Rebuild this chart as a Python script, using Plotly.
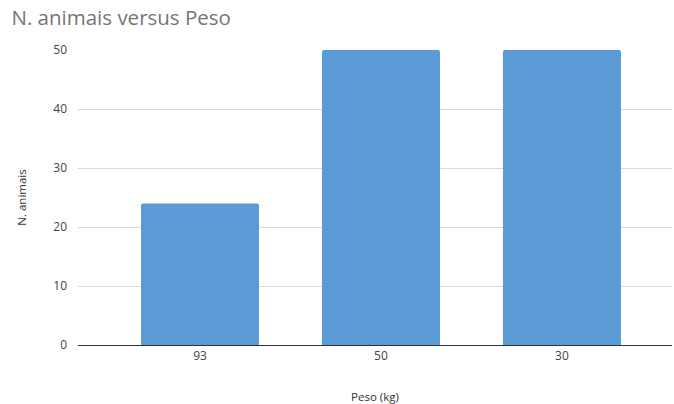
import plotly.graph_objects as go

# Data
peso_labels = ["93", "50", "30"]
n_animais = [24, 50, 50]
y_ticks = [0, 10, 20, 30, 40, 50]

fig = go.Figure(
    go.Bar(
        x=peso_labels,
        y=n_animais,
        width=0.652,
        marker=dict(color="#5a9bd5", line=dict(width=0), cornerradius=2),
        hoverinfo="x+y",
    )
)

fig.update_layout(
    width=674,
    height=404,
    margin=dict(l=78, r=2, t=50, b=59),
    paper_bgcolor="white",
    plot_bgcolor="white",
    font=dict(family="Open Sans, Noto Sans, sans-serif", color="#444444"),
    showlegend=False,
    title=dict(
        text="N. animais versus Peso",
        x=0.017,
        xanchor="left",
        y=0.957,
        yanchor="middle",
        font=dict(size=20.5, color="#757575"),
    ),
    xaxis=dict(
        type="category",
        range=[-0.674, 2.608],
        showgrid=False,
        showline=True,
        linecolor="#333333",
        linewidth=1,
        ticks="",
        tickfont=dict(size=12, color="#444444"),
        title=dict(text="Peso (kg)", font=dict(size=11.5, color="#333333"), standoff=30),
    ),
    yaxis=dict(
        range=[0, 50],
        tickvals=y_ticks,
        showgrid=True,
        gridcolor="#d9d9d9",
        gridwidth=1,
        zeroline=False,
        showline=False,
        ticks="",
        tickfont=dict(size=12, color="#444444"),
        ticklabelstandoff=10,
        title=dict(text="N. animais", font=dict(size=11.5, color="#333333"), standoff=24),
    ),
)

fig.write_html("out.html")
